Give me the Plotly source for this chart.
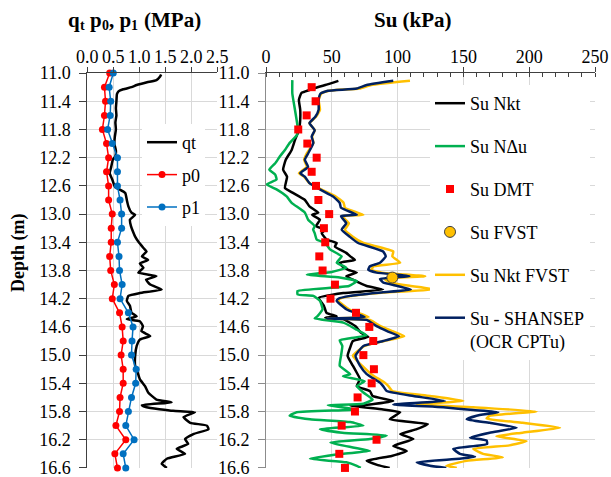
import plotly.graph_objects as go

# ---------------- data ----------------
# left panel: qt, p0, p1 (MPa) vs depth (m)
QT_DEPTH = [11.02, 11.05, 11.10, 11.13, 11.17, 11.20, 11.23, 11.26, 11.30, 11.40, 11.50, 11.60, 11.70, 11.80,
            11.90, 12.00, 12.10, 12.18, 12.23, 12.33, 12.42, 12.51, 12.61, 12.70, 12.80, 12.89, 12.98, 13.01,
            13.08, 13.17, 13.25, 13.32, 13.39, 13.48, 13.53, 13.60, 13.65, 13.70, 13.76, 13.83, 13.88, 13.93,
            14.00, 14.07, 14.12, 14.16, 14.23, 14.30, 14.40, 14.45, 14.49, 14.52, 14.59, 14.66, 14.73, 14.78,
            14.87, 15.01, 15.15, 15.25, 15.34, 15.44, 15.53, 15.63, 15.67, 15.71, 15.74, 15.79, 15.81, 15.88,
            15.96, 16.00, 16.05, 16.12, 16.19, 16.26, 16.33, 16.40, 16.47, 16.54, 16.60]
QT = [1.42, 1.40, 1.33, 1.15, 0.95, 0.85, 0.69, 0.60, 0.57, 0.56, 0.55, 0.56, 0.54, 0.55,
      0.53, 0.52, 0.55, 0.54, 0.49, 0.46, 0.43, 0.48, 0.53, 0.73, 0.76, 0.79, 0.85, 0.92,
      0.82, 0.84, 0.88, 0.92, 0.98, 1.08, 1.14, 1.05, 1.17, 1.01, 1.08, 0.98, 1.33, 1.13,
      1.21, 1.43, 1.01, 0.79, 0.76, 0.82, 0.85, 0.95, 0.76, 1.01, 1.07, 1.04, 1.21, 1.01,
      0.95, 0.92, 0.92, 0.97, 1.01, 1.11, 1.17, 1.33, 1.62, 1.05, 1.14, 1.65, 2.07, 1.85,
      1.98, 2.30, 2.33, 2.04, 1.88, 1.94, 1.72, 1.88, 1.53, 1.43, 1.53]

DMT_P_DEPTH = [round(11.0 + 0.2 * i, 1) for i in range(29)]
P0 = [0.43, 0.33, 0.35, 0.33, 0.29, 0.37, 0.41, 0.37, 0.41, 0.41, 0.48, 0.46, 0.46, 0.43,
      0.45, 0.52, 0.48, 0.62, 0.67, 0.69, 0.65, 0.69, 0.69, 0.63, 0.62, 0.55, 0.74, 0.53, 0.58]
P1 = [0.50, 0.42, 0.45, 0.44, 0.39, 0.48, 0.58, 0.58, 0.58, 0.63, 0.66, 0.66, 0.58, 0.61,
      0.62, 0.67, 0.63, 0.79, 0.88, 0.86, 0.85, 0.94, 0.93, 0.85, 0.79, 0.74, 0.90, 0.69, 0.74]

# right panel: Su (kPa) vs depth (m)
NKT_DEPTH = [11.11, 11.17, 11.19, 11.24, 11.28, 11.38, 11.52, 11.66, 11.81, 11.95, 12.09, 12.23, 12.37, 12.47,
             12.63, 12.70, 12.80, 12.89, 12.98, 13.01, 13.08, 13.17, 13.22, 13.27, 13.36, 13.41, 13.46, 13.55,
             13.60, 13.65, 13.69, 13.74, 13.79, 13.83, 13.88, 13.93, 14.02, 14.07, 14.12, 14.19, 14.30, 14.40,
             14.45, 14.47, 14.49, 14.59, 14.68, 14.74, 14.80, 14.89, 15.01, 15.15, 15.25, 15.34, 15.44, 15.51,
             15.58, 15.65, 15.70, 15.72, 15.77, 15.81, 15.91, 15.98, 16.05, 16.12, 16.19, 16.29, 16.36, 16.43,
             16.50, 16.56, 16.60]
SU_NKT = [55, 45, 41, 33, 27, 25, 26, 26, 25, 22, 19.5, 15, 13, 16,
          14.4, 20.5, 29.6, 33, 39.8, 35, 41, 38, 45, 42.3, 46, 53.7, 52.4, 61,
          64, 67.6, 56, 58, 62.5, 69, 61, 66, 76.5, 89, 58.8, 40, 44, 46,
          53.7, 45, 58.5, 68, 72, 77.7, 66, 64, 62, 66, 69, 71.4, 69, 79,
          81, 96.7, 79, 64, 89, 102, 94, 123, 114.5, 102, 112, 96.7, 107, 95.5,
          76.5, 85, 94]

NDU_DEPTH = [11.10, 11.29, 11.52, 11.76, 11.88, 11.99, 12.09, 12.18, 12.28, 12.37, 12.44, 12.51, 12.58, 12.65,
             12.75, 12.84, 12.98, 13.08, 13.17, 13.22, 13.27, 13.36, 13.41, 13.50, 13.60, 13.69, 13.76, 13.82,
             13.86, 13.90, 13.95, 14.02, 14.09, 14.14, 14.16, 14.23, 14.35, 14.45, 14.48, 14.54, 14.64, 14.72,
             14.76, 14.79, 14.87, 15.01, 15.15, 15.27, 15.30, 15.37, 15.44, 15.53, 15.63, 15.69, 15.71, 15.77,
             15.81, 15.86, 15.91, 15.95, 16.00, 16.05, 16.10, 16.14, 16.19, 16.24, 16.31, 16.36, 16.40, 16.47,
             16.52, 16.57, 16.60]
SU_NDU = [20, 20, 22, 24, 23.5, 18, 14.4, 10.6, 7, 2.5, 7, 8, 0.5, 8,
          15.7, 19.5, 29.6, 32, 37, 35.8, 37, 38.5, 45, 48.6, 57.5, 53.7, 61, 50,
          31, 56, 69, 63, 24, 24, 36, 41, 43, 39, 37, 58.8, 69, 76.5,
          64, 56, 58, 57, 56, 64, 58.5, 75, 69, 74, 81, 74, 47, 69,
          23.3, 18, 33.4, 64, 74, 41, 58, 91.7, 79, 49, 66, 79, 58, 33.4,
          61, 69, 72]

DMT_SU_DEPTH = [round(11.2 + 0.2 * i, 1) for i in range(28)]
SU_DMT = [34.7, 37.7, 30.9, 24.5, 31.4, 38.5, 34.7, 38, 39.8, 48, 44, 45, 40.5, 43,
          52.4, 49, 68.4, 78.5, 81.5, 74, 82, 80.3, 69.6, 67.6, 57.5, 84, 55.7, 60]

FVST_DEPTH = [13.9]
SU_FVST = [96]

SH_DEPTH = [11.11, 11.17, 11.22, 11.25, 11.29, 11.38, 11.52, 11.62, 11.71, 11.81, 11.90, 11.99, 12.14, 12.23,
            12.33, 12.42, 12.47, 12.56, 12.65, 12.75, 12.84, 12.91, 13.01, 13.03, 13.13, 13.22, 13.32, 13.41,
            13.53, 13.60, 13.69, 13.74, 13.79, 13.83, 13.88, 13.92, 13.97, 14.02, 14.07, 14.11, 14.16, 14.20,
            14.23, 14.35, 14.42, 14.46, 14.48, 14.50, 14.59, 14.66, 14.73, 14.80, 14.87, 15.01, 15.15, 15.27,
            15.39, 15.44, 15.51, 15.58, 15.65, 15.70, 15.74, 15.78, 15.81, 15.86, 15.91, 15.96, 16.03, 16.10,
            16.17, 16.21, 16.26, 16.33, 16.40, 16.44, 16.47, 16.52, 16.57, 16.60]
SU_SHANSEP = [96.7, 76.5, 69, 47, 41.5, 40, 40, 37.5, 33, 37, 34.7, 36, 32, 29.5,
              32, 26, 29.5, 33, 41, 51, 56, 57, 69, 57, 61, 57.5, 63.5, 70,
              89, 91, 86.6, 79, 77.7, 84, 109, 86.6, 89, 100, 110, 89, 64, 55,
              53.7, 61, 70, 75, 46, 76.5, 84, 92, 101, 89, 74, 68, 71.4, 76.5,
              86.6, 89, 91.7, 112, 136, 96.7, 134.7, 157.5, 176.5, 160, 152.5, 170, 190.5, 170,
              155, 167.6, 168, 142.3, 147.4, 158.8, 147, 114.5, 124.6, 137]

NF_DEPTH = [11.11, 11.17, 11.22, 11.25, 11.29, 11.38, 11.52, 11.62, 11.71, 11.81, 11.90, 11.99, 12.14, 12.23,
            12.33, 12.42, 12.47, 12.56, 12.65, 12.75, 12.84, 12.91, 13.01, 13.03, 13.13, 13.22, 13.32, 13.41,
            13.53, 13.60, 13.69, 13.74, 13.79, 13.83, 13.88, 13.92, 13.97, 14.02, 14.07, 14.11, 14.16, 14.20,
            14.23, 14.35, 14.42, 14.46, 14.48, 14.50, 14.59, 14.66, 14.73, 14.80, 14.87, 15.01, 15.15, 15.27,
            15.39, 15.44, 15.51, 15.58, 15.65, 15.70, 15.74, 15.80, 15.86, 15.90, 15.96, 16.03, 16.10, 16.15,
            16.22, 16.28, 16.33, 16.40, 16.45, 16.50, 16.57, 16.60]
SU_NKT_FVST = [109.4, 80, 71, 48, 42, 40, 41, 38, 33, 37, 35, 36, 31, 29,
               31, 25, 29, 33, 42, 53, 59, 60, 74, 58, 63, 60, 66, 74,
               96.7, 96, 102, 82, 80, 88, 121, 90, 94, 110, 128, 92, 66, 56,
               55, 63, 73, 78, 46, 79, 87, 96, 105, 90, 75, 66, 73, 80,
               90, 93, 96, 124.6, 150, 114.5, 157.5, 205.6, 170, 167.6, 195, 223.4, 195, 175,
               198, 185, 157.5, 165, 180, 152.5, 137, 145]

DEPTH_TICKS = [round(11.0 + 0.4 * i, 1) for i in range(15)]
DEPTH_LABELS = [f"{v:.1f}" for v in DEPTH_TICKS]
MPA_TICKS = [0.0, 0.5, 1.0, 1.5, 2.0, 2.5]
KPA_TICKS = [0, 50, 100, 150, 200, 250]

# ---------------- figure ----------------
W, H = 611, 477
FONT = "Liberation Serif, Times New Roman, Times, serif"
GRID = "#d9d9d9"


def fx(p):
    return p / W


def fy(p):
    return 1 - p / H


fig = go.Figure()

# left panel
fig.add_trace(go.Scatter(x=QT, y=QT_DEPTH, name="qt", mode="lines",
                         line=dict(color="black", width=2.5, shape="spline", smoothing=0.4),
                         xaxis="x", yaxis="y", legend="legend", legendgroup="qt", legendrank=1))
fig.add_trace(go.Scatter(x=P0, y=DMT_P_DEPTH, name="p0", mode="lines+markers",
                         line=dict(color="#FF0000", width=1.5), marker=dict(size=7, color="#FF0000"),
                         cliponaxis=False, xaxis="x", yaxis="y", legend="legend", legendgroup="p0",
                         legendrank=2))
fig.add_trace(go.Scatter(x=P1, y=DMT_P_DEPTH, name="p1", mode="lines+markers",
                         line=dict(color="#0070C0", width=1.5), marker=dict(size=7, color="#0070C0"),
                         cliponaxis=False, xaxis="x", yaxis="y", legend="legend", legendgroup="p1",
                         legendrank=3))

# right panel (drawing order: black, green, yellow, navy, squares, circle)
fig.add_trace(go.Scatter(x=SU_NKT, y=NKT_DEPTH, name="Su Nkt", mode="lines",
                         line=dict(color="black", width=2.5, shape="spline", smoothing=0.4),
                         xaxis="x2", yaxis="y2", legend="legend2", legendgroup="a", legendrank=1))
fig.add_trace(go.Scatter(x=SU_NDU, y=NDU_DEPTH, name="Su NΔu", mode="lines",
                         line=dict(color="#00B050", width=2.5, shape="spline", smoothing=0.4),
                         xaxis="x2", yaxis="y2", legend="legend2", legendgroup="b", legendrank=2))
fig.add_trace(go.Scatter(x=SU_NKT_FVST, y=NF_DEPTH, name="Su Nkt FVST", mode="lines",
                         line=dict(color="#FFC000", width=2.5, shape="spline", smoothing=0.4),
                         xaxis="x2", yaxis="y2", legend="legend2", legendgroup="e", legendrank=5))
fig.add_trace(go.Scatter(x=SU_SHANSEP, y=SH_DEPTH, name="Su - SHANSEP<br>(OCR CPTu)", mode="lines",
                         line=dict(color="#002060", width=2.5, shape="spline", smoothing=0.4),
                         xaxis="x2", yaxis="y2", legend="legend2", legendgroup="f", legendrank=6))
fig.add_trace(go.Scatter(x=SU_DMT, y=DMT_SU_DEPTH, name="Su DMT", mode="markers",
                         marker=dict(symbol="square", size=8, color="#FF0000"),
                         cliponaxis=False, xaxis="x2", yaxis="y2", legend="legend2", legendgroup="c",
                         legendrank=3))
fig.add_trace(go.Scatter(x=SU_FVST, y=FVST_DEPTH, name="Su FVST", mode="markers",
                         marker=dict(symbol="circle", size=11, color="#FFC000",
                                     line=dict(color="#404040", width=1)),
                         cliponaxis=False, xaxis="x2", yaxis="y2", legend="legend2", legendgroup="d",
                         legendrank=4))

yaxis_common = dict(range=[16.601, 10.999], tickvals=DEPTH_TICKS, ticktext=DEPTH_LABELS,
                    showgrid=True, gridcolor=GRID, gridwidth=1, zeroline=False,
                    showline=True, ticks="outside", ticklen=7, tickwidth=1,
                    tickfont=dict(size=18, family=FONT, color="black"),
                    domain=[fy(468), fy(73)], automargin=False, ticklabelstandoff=5,
                    ticklabeloverflow="allow")

xaxis_common = dict(side="top", showgrid=True, gridcolor=GRID, zeroline=False,
                    showline=True, linecolor="#404040", ticks="outside", ticklen=5, tickcolor="#404040",
                    tickfont=dict(size=18, family=FONT, color="black"), automargin=False,
                    ticklabelstandoff=-3, ticklabeloverflow="allow")

fig.update_layout(
    width=W, height=H, margin=dict(l=0, r=0, t=0, b=0),
    paper_bgcolor="white", plot_bgcolor="white",
    font=dict(family=FONT, size=18, color="black"),
    xaxis=dict(**xaxis_common, domain=[fx(87.3), fx(217.3)], range=[0, 2.5], tickvals=MPA_TICKS,
               tickformat=".1f", anchor="y"),
    yaxis=dict(**yaxis_common, anchor="x", linecolor="#404040", tickcolor="#404040"),
    xaxis2=dict(**xaxis_common, domain=[fx(266), fx(595)], range=[0, 250], tickvals=KPA_TICKS,
                minor=dict(dtick=10, ticks="inside", ticklen=4, tickcolor="#404040", showgrid=False),
                anchor="y2"),
    yaxis2=dict(**yaxis_common, anchor="x2", linecolor="#8c8c8c", tickcolor="#8c8c8c"),
    legend=dict(x=fx(142), y=fy(124), xanchor="left", yanchor="top", bgcolor="white",
                font=dict(size=18, family=FONT), traceorder="grouped", tracegroupgap=6,
                itemwidth=30),
    legend2=dict(x=fx(430), y=fy(85), xanchor="left", yanchor="top", bgcolor="white",
                 font=dict(size=18, family=FONT), traceorder="grouped", tracegroupgap=16.5,
                 itemwidth=30, valign="top"),
    showlegend=True,
)

# left title "qt p0, p1 (MPa)" built from pieces (main text and subscripts)
TITLE_PIECES = [("q", 68, 21, 0), ("t", 80, 14, 6), ("p", 90, 21, 0), ("0", 101.5, 14, 6),
                (", p", 108.5, 21, 0), ("1", 131, 14, 6), ("(MPa)", 143.5, 21, 0)]
for txt, xl, sz, dy in TITLE_PIECES:
    fig.add_annotation(text=f"<b>{txt}</b>", xref="paper", yref="paper",
                       x=fx(xl - 2), y=fy(20 + dy), showarrow=False,
                       font=dict(size=sz, family=FONT, color="black"),
                       xanchor="left", yanchor="middle")

fig.add_annotation(text="<b>Su (kPa)</b>", xref="paper", yref="paper",
                   x=fx(413), y=fy(20), showarrow=False, font=dict(size=21, family=FONT, color="black"),
                   xanchor="center", yanchor="middle")
fig.add_annotation(text="<b>Depth (m)</b>", xref="paper", yref="paper", textangle=-90,
                   x=fx(18), y=fy(253), showarrow=False, font=dict(size=18, family=FONT, color="black"),
                   xanchor="center", yanchor="middle")

fig.write_html("out.html")
